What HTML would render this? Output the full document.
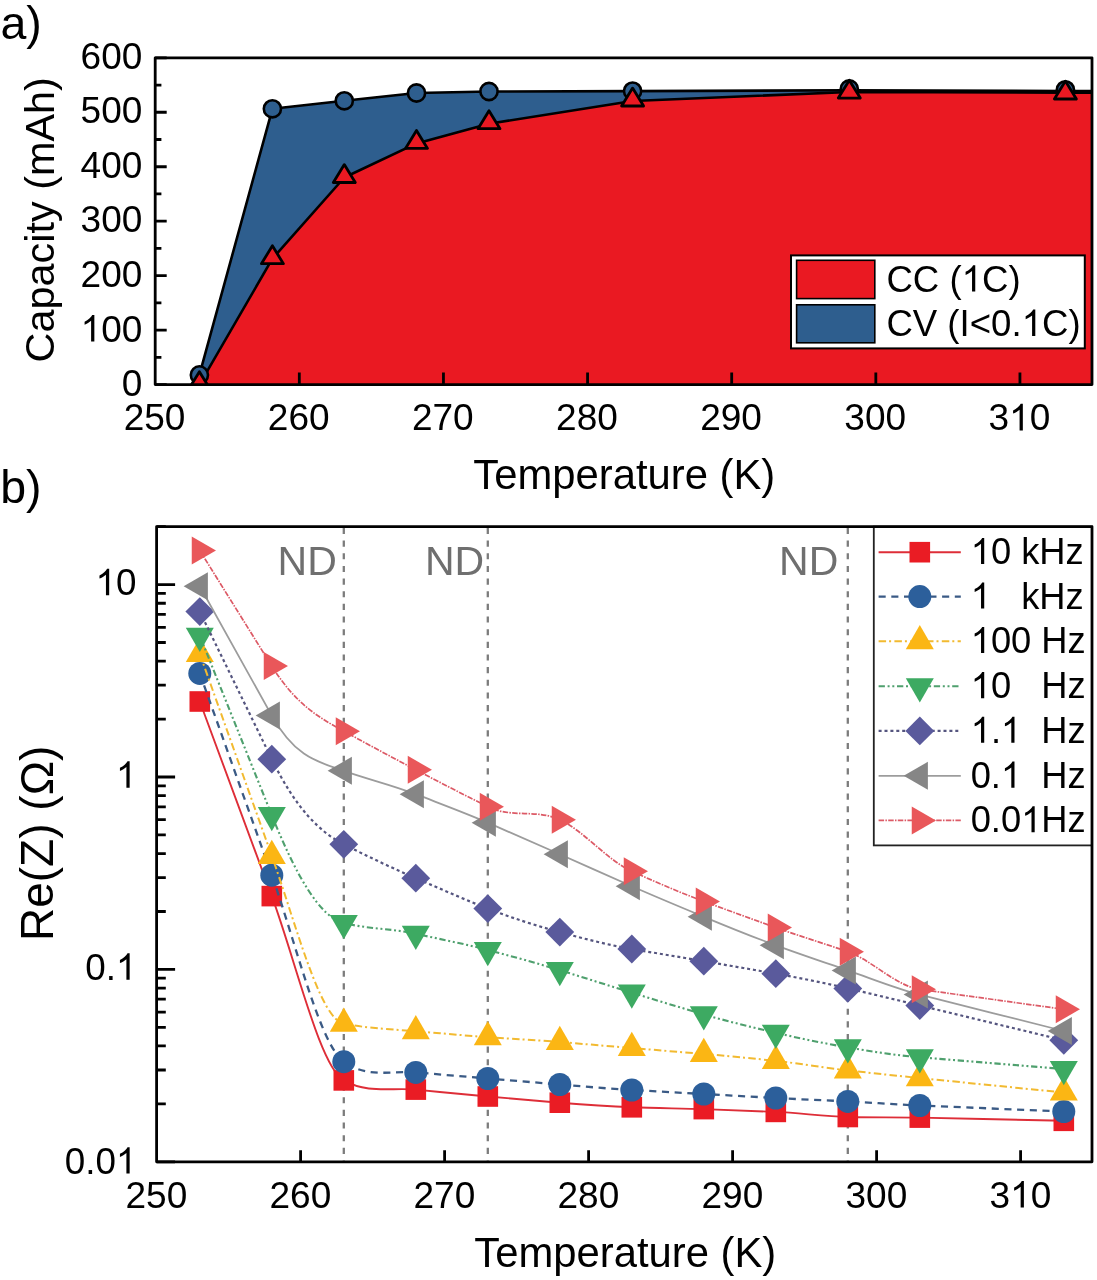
<!DOCTYPE html><html><head><meta charset="utf-8"><style>html,body{margin:0;padding:0;background:#fff;}svg{display:block;will-change:transform;}</style></head><body>
<svg width="1097" height="1280" viewBox="0 0 1097 1280">
<rect width="1097" height="1280" fill="#fff"/>
<defs>
<clipPath id="ca"><rect x="155.2" y="57.8" width="936.8" height="326.8"/></clipPath>
<clipPath id="cb"><rect x="156.6" y="526.6" width="935.4" height="635.1999999999999"/></clipPath>
</defs>
<g clip-path="url(#ca)">
<polygon points="199.4,384.6 272.4,258.7 344.3,177.5 416.5,143.4 489,123.7 632.6,101 849.3,92 1065.4,92.6 1097,92.6 1097,389.6 199.4,389.6" fill="#EA1922"/>
<polygon points="199.4,374.9 272.4,108.8 344.3,100.8 416.5,93 489,91.5 632.6,91.1 849.3,90.3 1065.4,91.1 1097,91.1 1097,92.6 1065.4,92.6 849.3,92 632.6,101 489,123.7 416.5,143.4 344.3,177.5 272.4,258.7 199.4,384.6" fill="#2E5E8E"/>
<polyline points="199.4,374.9 272.4,108.8 344.3,100.8 416.5,93 489,91.5 632.6,91.1 849.3,90.3 1065.4,91.1 1097,91.1" fill="none" stroke="#000" stroke-width="2.6" stroke-linejoin="round"/>
<polyline points="199.4,384.6 272.4,258.7 344.3,177.5 416.5,143.4 489,123.7 632.6,101 849.3,92 1065.4,92.6 1097,92.6" fill="none" stroke="#000" stroke-width="2.6" stroke-linejoin="round"/>
<circle cx="199.4" cy="374.9" r="8.6" fill="#2E5E8E" stroke="#000" stroke-width="2.6"/>
<circle cx="272.4" cy="108.8" r="8.6" fill="#2E5E8E" stroke="#000" stroke-width="2.6"/>
<circle cx="344.3" cy="100.8" r="8.6" fill="#2E5E8E" stroke="#000" stroke-width="2.6"/>
<circle cx="416.5" cy="93" r="8.6" fill="#2E5E8E" stroke="#000" stroke-width="2.6"/>
<circle cx="489" cy="91.5" r="8.6" fill="#2E5E8E" stroke="#000" stroke-width="2.6"/>
<circle cx="632.6" cy="91.1" r="8.6" fill="#2E5E8E" stroke="#000" stroke-width="2.6"/>
<circle cx="849.3" cy="89" r="8.6" fill="#2E5E8E" stroke="#000" stroke-width="2.6"/>
<circle cx="1065.4" cy="89.8" r="8.6" fill="#2E5E8E" stroke="#000" stroke-width="2.6"/>
<polygon points="199.4,371.7 210.4,389.6 188.4,389.6" fill="#EA1922" stroke="#000" stroke-width="2.8" stroke-linejoin="round"/>
<polygon points="272.4,245.8 283.4,263.7 261.4,263.7" fill="#EA1922" stroke="#000" stroke-width="2.8" stroke-linejoin="round"/>
<polygon points="344.3,164.6 355.3,182.5 333.3,182.5" fill="#EA1922" stroke="#000" stroke-width="2.8" stroke-linejoin="round"/>
<polygon points="416.5,130.5 427.5,148.4 405.5,148.4" fill="#EA1922" stroke="#000" stroke-width="2.8" stroke-linejoin="round"/>
<polygon points="489,110.8 500,128.7 478,128.7" fill="#EA1922" stroke="#000" stroke-width="2.8" stroke-linejoin="round"/>
<polygon points="632.6,88.1 643.6,106 621.6,106" fill="#EA1922" stroke="#000" stroke-width="2.8" stroke-linejoin="round"/>
<polygon points="849.3,80.2 860.3,98.1 838.3,98.1" fill="#EA1922" stroke="#000" stroke-width="2.8" stroke-linejoin="round"/>
<polygon points="1065.4,81.1 1076.4,99 1054.4,99" fill="#EA1922" stroke="#000" stroke-width="2.8" stroke-linejoin="round"/>
</g>
<path d="M155.2 384.6h11.5 M155.2 357.37h6.2 M155.2 330.13h11.5 M155.2 302.9h6.2 M155.2 275.67h11.5 M155.2 248.43h6.2 M155.2 221.2h11.5 M155.2 193.97h6.2 M155.2 166.73h11.5 M155.2 139.5h6.2 M155.2 112.27h11.5 M155.2 85.03h6.2 M155.2 57.8h11.5 M299.32 384.6v-12 M443.45 384.6v-12 M587.57 384.6v-12 M731.69 384.6v-12 M875.82 384.6v-12 M1019.94 384.6v-12" stroke="#000" stroke-width="2.8" fill="none"/>
<rect x="155.2" y="57.8" width="936.8" height="326.8" fill="none" stroke="#000" stroke-width="2.8" stroke-linejoin="round"/>
<rect x="791" y="255.4" width="293.8" height="93" fill="#fff" stroke="#000" stroke-width="2"/>
<rect x="796.6" y="260.3" width="78.2" height="38.3" fill="#EA1922" stroke="#000" stroke-width="1.6"/>
<rect x="796.6" y="304.8" width="78.2" height="38" fill="#2E5E8E" stroke="#000" stroke-width="1.6"/>
<text x="886.4" y="291.6" font-family="Liberation Sans, sans-serif" font-size="36.6" fill="#000" xml:space="preserve" style="white-space:pre;font-kerning:none">CC (</text>
<path transform="translate(961.62,291.6) scale(0.01787,-0.01787)" d="M763 0L583 0L583 1147Q518 1085 412.5 1023Q307 961 223 930L223 1104Q374 1175 486.5 1276Q599 1377 646 1472L763 1472Z" fill="#000"/>
<text x="981.97" y="291.6" font-family="Liberation Sans, sans-serif" font-size="36.6" fill="#000" xml:space="preserve" style="white-space:pre;font-kerning:none">C)</text>
<text x="886.4" y="335.9" font-family="Liberation Sans, sans-serif" font-size="36.6" fill="#000" xml:space="preserve" style="white-space:pre;font-kerning:none">CV (I&lt;0.</text>
<path transform="translate(1021.67,335.9) scale(0.01787,-0.01787)" d="M763 0L583 0L583 1147Q518 1085 412.5 1023Q307 961 223 930L223 1104Q374 1175 486.5 1276Q599 1377 646 1472L763 1472Z" fill="#000"/>
<text x="1042.02" y="335.9" font-family="Liberation Sans, sans-serif" font-size="36.6" fill="#000" xml:space="preserve" style="white-space:pre;font-kerning:none">C)</text>
<text x="121.72" y="396.2" font-family="Liberation Sans, sans-serif" font-size="37" fill="#000" xml:space="preserve" style="white-space:pre;font-kerning:none">0</text>
<path transform="translate(80.57,341.6) scale(0.01807,-0.01807)" d="M763 0L583 0L583 1147Q518 1085 412.5 1023Q307 961 223 930L223 1104Q374 1175 486.5 1276Q599 1377 646 1472L763 1472Z" fill="#000"/>
<text x="101.14" y="341.6" font-family="Liberation Sans, sans-serif" font-size="37" fill="#000" xml:space="preserve" style="white-space:pre;font-kerning:none">00</text>
<text x="80.57" y="287" font-family="Liberation Sans, sans-serif" font-size="37" fill="#000" xml:space="preserve" style="white-space:pre;font-kerning:none">200</text>
<text x="80.57" y="232.4" font-family="Liberation Sans, sans-serif" font-size="37" fill="#000" xml:space="preserve" style="white-space:pre;font-kerning:none">300</text>
<text x="80.57" y="177.8" font-family="Liberation Sans, sans-serif" font-size="37" fill="#000" xml:space="preserve" style="white-space:pre;font-kerning:none">400</text>
<text x="80.57" y="123.2" font-family="Liberation Sans, sans-serif" font-size="37" fill="#000" xml:space="preserve" style="white-space:pre;font-kerning:none">500</text>
<text x="80.57" y="68.6" font-family="Liberation Sans, sans-serif" font-size="37" fill="#000" xml:space="preserve" style="white-space:pre;font-kerning:none">600</text>
<text x="123.73" y="430.4" font-family="Liberation Sans, sans-serif" font-size="37" fill="#000" xml:space="preserve" style="white-space:pre;font-kerning:none">250</text>
<text x="267.86" y="430.4" font-family="Liberation Sans, sans-serif" font-size="37" fill="#000" xml:space="preserve" style="white-space:pre;font-kerning:none">260</text>
<text x="411.98" y="430.4" font-family="Liberation Sans, sans-serif" font-size="37" fill="#000" xml:space="preserve" style="white-space:pre;font-kerning:none">270</text>
<text x="556.1" y="430.4" font-family="Liberation Sans, sans-serif" font-size="37" fill="#000" xml:space="preserve" style="white-space:pre;font-kerning:none">280</text>
<text x="700.23" y="430.4" font-family="Liberation Sans, sans-serif" font-size="37" fill="#000" xml:space="preserve" style="white-space:pre;font-kerning:none">290</text>
<text x="844.35" y="430.4" font-family="Liberation Sans, sans-serif" font-size="37" fill="#000" xml:space="preserve" style="white-space:pre;font-kerning:none">300</text>
<text x="988.47" y="430.4" font-family="Liberation Sans, sans-serif" font-size="37" fill="#000" xml:space="preserve" style="white-space:pre;font-kerning:none">3</text>
<path transform="translate(1009.05,430.4) scale(0.01807,-0.01807)" d="M763 0L583 0L583 1147Q518 1085 412.5 1023Q307 961 223 930L223 1104Q374 1175 486.5 1276Q599 1377 646 1472L763 1472Z" fill="#000"/>
<text x="1029.63" y="430.4" font-family="Liberation Sans, sans-serif" font-size="37" fill="#000" xml:space="preserve" style="white-space:pre;font-kerning:none">0</text>
<text x="473.3" y="488.8" font-family="Liberation Sans, sans-serif" font-size="41.8" fill="#000">Temperature (K)</text>
<text transform="translate(53.6,362.4) rotate(-90)" x="0" y="0" font-family="Liberation Sans, sans-serif" font-size="41.4" fill="#000">Capacity (mAh)</text>
<text x="0.4" y="39.2" font-family="Liberation Sans, sans-serif" font-size="46.5" fill="#000">a)</text>
<line x1="343.8" y1="526.6" x2="343.8" y2="1161.8" stroke="#7c7c7c" stroke-width="2.3" stroke-dasharray="6.1 6.55" stroke-dashoffset="11.3"/>
<line x1="487.8" y1="526.6" x2="487.8" y2="1161.8" stroke="#7c7c7c" stroke-width="2.3" stroke-dasharray="6.1 6.55" stroke-dashoffset="11.3"/>
<line x1="847.8" y1="526.6" x2="847.8" y2="1161.8" stroke="#7c7c7c" stroke-width="2.3" stroke-dasharray="6.1 6.55" stroke-dashoffset="11.3"/>
<text x="277.6" y="575.2" font-family="Liberation Sans, sans-serif" font-size="41" fill="#6f6f6f">ND</text>
<text x="425.0" y="575.2" font-family="Liberation Sans, sans-serif" font-size="41" fill="#6f6f6f">ND</text>
<text x="779.1" y="575.2" font-family="Liberation Sans, sans-serif" font-size="41" fill="#6f6f6f">ND</text>
<g clip-path="url(#cb)">
<path d="M199.8 701.5C223.8 766.37 247.8 831.23 271.8 896.1C295.8 960.97 319.8 1066.68 343.8 1080.4C367.8 1094.12 391.8 1087.3 415.8 1089.6C439.8 1091.9 463.8 1094.34 487.8 1096.5C511.8 1098.66 535.8 1100.74 559.8 1102.7C583.8 1104.66 607.8 1106.34 631.8 1107.3C655.8 1108.26 679.8 1108.32 703.8 1109.1C727.8 1109.88 751.8 1110.83 775.8 1111.9C799.8 1112.97 823.8 1116.35 847.8 1117C871.8 1117.65 895.8 1117.07 919.8 1117.6C967.8 1118.67 1015.8 1119.73 1063.8 1120.8" fill="none" stroke="#DE2E38" stroke-width="1.9"/>
<rect x="189.5" y="691.2" width="20.6" height="20.6" fill="#EA1C24"/>
<rect x="261.5" y="885.8" width="20.6" height="20.6" fill="#EA1C24"/>
<rect x="333.5" y="1070.1" width="20.6" height="20.6" fill="#EA1C24"/>
<rect x="405.5" y="1079.3" width="20.6" height="20.6" fill="#EA1C24"/>
<rect x="477.5" y="1086.2" width="20.6" height="20.6" fill="#EA1C24"/>
<rect x="549.5" y="1092.4" width="20.6" height="20.6" fill="#EA1C24"/>
<rect x="621.5" y="1097" width="20.6" height="20.6" fill="#EA1C24"/>
<rect x="693.5" y="1098.8" width="20.6" height="20.6" fill="#EA1C24"/>
<rect x="765.5" y="1101.6" width="20.6" height="20.6" fill="#EA1C24"/>
<rect x="837.5" y="1106.7" width="20.6" height="20.6" fill="#EA1C24"/>
<rect x="909.5" y="1107.3" width="20.6" height="20.6" fill="#EA1C24"/>
<rect x="1053.5" y="1110.5" width="20.6" height="20.6" fill="#EA1C24"/>
<path d="M199.8 673.4C223.8 740.67 247.8 807.93 271.8 875.2C295.8 942.47 319.8 1044.59 343.8 1061.7C367.8 1078.81 391.8 1070.37 415.8 1072.4C439.8 1074.43 463.8 1076.5 487.8 1078.5C511.8 1080.5 535.8 1082.51 559.8 1084.5C583.8 1086.49 607.8 1088.67 631.8 1090C655.8 1091.33 679.8 1092.67 703.8 1094C727.8 1095.33 751.8 1096.67 775.8 1098C799.8 1099.33 823.8 1100.18 847.8 1101.4C871.8 1102.62 895.8 1104.5 919.8 1105.5C967.8 1107.5 1015.8 1109.5 1063.8 1111.5" fill="none" stroke="#3A5A85" stroke-width="2.3" stroke-dasharray="7.1 5.6"/>
<circle cx="199.8" cy="673.4" r="11.5" fill="#2C5F9B"/>
<circle cx="271.8" cy="875.2" r="11.5" fill="#2C5F9B"/>
<circle cx="343.8" cy="1061.7" r="11.5" fill="#2C5F9B"/>
<circle cx="415.8" cy="1072.4" r="11.5" fill="#2C5F9B"/>
<circle cx="487.8" cy="1078.5" r="11.5" fill="#2C5F9B"/>
<circle cx="559.8" cy="1084.5" r="11.5" fill="#2C5F9B"/>
<circle cx="631.8" cy="1090" r="11.5" fill="#2C5F9B"/>
<circle cx="703.8" cy="1094" r="11.5" fill="#2C5F9B"/>
<circle cx="775.8" cy="1098" r="11.5" fill="#2C5F9B"/>
<circle cx="847.8" cy="1101.4" r="11.5" fill="#2C5F9B"/>
<circle cx="919.8" cy="1105.5" r="11.5" fill="#2C5F9B"/>
<circle cx="1063.8" cy="1111.5" r="11.5" fill="#2C5F9B"/>
<path d="M199.8 653.9C223.8 721.23 247.8 788.57 271.8 855.9C295.8 923.23 319.8 1018.95 343.8 1023.7C367.8 1028.45 391.8 1029.2 415.8 1031.2C439.8 1033.2 463.8 1035.42 487.8 1037.2C511.8 1038.98 535.8 1040 559.8 1042C583.8 1044 607.8 1046 631.8 1048C655.8 1050 679.8 1052 703.8 1054C727.8 1056 751.8 1058.31 775.8 1060.9C799.8 1063.49 823.8 1067.74 847.8 1070.4C871.8 1073.06 895.8 1075.7 919.8 1078.1C967.8 1082.9 1015.8 1087.7 1063.8 1092.5" fill="none" stroke="#F2BA30" stroke-width="2.0" stroke-dasharray="7.5 3 2 3.3"/>
<polygon points="199.8,637.73 213.8,661.98 185.8,661.98" fill="#FBB614"/>
<polygon points="271.8,839.73 285.8,863.98 257.8,863.98" fill="#FBB614"/>
<polygon points="343.8,1007.53 357.8,1031.78 329.8,1031.78" fill="#FBB614"/>
<polygon points="415.8,1015.03 429.8,1039.28 401.8,1039.28" fill="#FBB614"/>
<polygon points="487.8,1021.03 501.8,1045.28 473.8,1045.28" fill="#FBB614"/>
<polygon points="559.8,1025.83 573.8,1050.08 545.8,1050.08" fill="#FBB614"/>
<polygon points="631.8,1031.83 645.8,1056.08 617.8,1056.08" fill="#FBB614"/>
<polygon points="703.8,1037.83 717.8,1062.08 689.8,1062.08" fill="#FBB614"/>
<polygon points="775.8,1044.73 789.8,1068.98 761.8,1068.98" fill="#FBB614"/>
<polygon points="847.8,1054.23 861.8,1078.48 833.8,1078.48" fill="#FBB614"/>
<polygon points="919.8,1061.93 933.8,1086.18 905.8,1086.18" fill="#FBB614"/>
<polygon points="1063.8,1076.33 1077.8,1100.58 1049.8,1100.58" fill="#FBB614"/>
<path d="M199.8 635.8C223.8 695.6 247.8 755.4 271.8 815.2C295.8 875 319.8 917.22 343.8 923.1C367.8 928.98 391.8 928.47 415.8 933.8C439.8 939.13 463.8 943.66 487.8 950C511.8 956.34 535.8 962.83 559.8 970.2C583.8 977.57 607.8 985.31 631.8 992.7C655.8 1000.09 679.8 1007.36 703.8 1014.4C727.8 1021.44 751.8 1027.19 775.8 1032.8C799.8 1038.41 823.8 1043.29 847.8 1047.4C871.8 1051.51 895.8 1055.35 919.8 1057.3C967.8 1061.2 1015.8 1065.1 1063.8 1069" fill="none" stroke="#4FA06E" stroke-width="2.1" stroke-dasharray="6.3 2.7 2 2.7 2 2.7"/>
<polygon points="199.8,651.97 213.8,627.72 185.8,627.72" fill="#3DAA62"/>
<polygon points="271.8,831.37 285.8,807.12 257.8,807.12" fill="#3DAA62"/>
<polygon points="343.8,939.27 357.8,915.02 329.8,915.02" fill="#3DAA62"/>
<polygon points="415.8,949.97 429.8,925.72 401.8,925.72" fill="#3DAA62"/>
<polygon points="487.8,966.17 501.8,941.92 473.8,941.92" fill="#3DAA62"/>
<polygon points="559.8,986.37 573.8,962.12 545.8,962.12" fill="#3DAA62"/>
<polygon points="631.8,1008.87 645.8,984.62 617.8,984.62" fill="#3DAA62"/>
<polygon points="703.8,1030.57 717.8,1006.32 689.8,1006.32" fill="#3DAA62"/>
<polygon points="775.8,1048.97 789.8,1024.72 761.8,1024.72" fill="#3DAA62"/>
<polygon points="847.8,1063.57 861.8,1039.32 833.8,1039.32" fill="#3DAA62"/>
<polygon points="919.8,1073.47 933.8,1049.22 905.8,1049.22" fill="#3DAA62"/>
<polygon points="1063.8,1085.17 1077.8,1060.92 1049.8,1060.92" fill="#3DAA62"/>
<path d="M199.8 611.6C223.8 660.8 247.8 710 271.8 759.2C295.8 808.4 319.8 832.09 343.8 844.3C367.8 856.51 391.8 867.93 415.8 878.2C439.8 888.47 463.8 899.26 487.8 908.6C511.8 917.94 535.8 925.58 559.8 932.1C583.8 938.62 607.8 944.87 631.8 949C655.8 953.13 679.8 957.07 703.8 961.2C727.8 965.33 751.8 969.45 775.8 973.7C799.8 977.95 823.8 982.8 847.8 988.4C871.8 994 895.8 999.7 919.8 1005.5C967.8 1017.1 1015.8 1028.7 1063.8 1040.3" fill="none" stroke="#55557F" stroke-width="2.2" stroke-dasharray="3 2.9"/>
<polygon points="199.8,597.2 214.2,611.6 199.8,626 185.4,611.6" fill="#5A5A9C"/>
<polygon points="271.8,744.8 286.2,759.2 271.8,773.6 257.4,759.2" fill="#5A5A9C"/>
<polygon points="343.8,829.9 358.2,844.3 343.8,858.7 329.4,844.3" fill="#5A5A9C"/>
<polygon points="415.8,863.8 430.2,878.2 415.8,892.6 401.4,878.2" fill="#5A5A9C"/>
<polygon points="487.8,894.2 502.2,908.6 487.8,923 473.4,908.6" fill="#5A5A9C"/>
<polygon points="559.8,917.7 574.2,932.1 559.8,946.5 545.4,932.1" fill="#5A5A9C"/>
<polygon points="631.8,934.6 646.2,949 631.8,963.4 617.4,949" fill="#5A5A9C"/>
<polygon points="703.8,946.8 718.2,961.2 703.8,975.6 689.4,961.2" fill="#5A5A9C"/>
<polygon points="775.8,959.3 790.2,973.7 775.8,988.1 761.4,973.7" fill="#5A5A9C"/>
<polygon points="847.8,974 862.2,988.4 847.8,1002.8 833.4,988.4" fill="#5A5A9C"/>
<polygon points="919.8,991.1 934.2,1005.5 919.8,1019.9 905.4,1005.5" fill="#5A5A9C"/>
<polygon points="1063.8,1025.9 1078.2,1040.3 1063.8,1054.7 1049.4,1040.3" fill="#5A5A9C"/>
<path d="M199.8 586.3C223.8 629.4 247.8 672.5 271.8 715.6C295.8 758.7 319.8 762.32 343.8 770.8C367.8 779.28 391.8 784.85 415.8 794.2C439.8 803.55 463.8 812.31 487.8 822.7C511.8 833.09 535.8 843.57 559.8 854.2C583.8 864.83 607.8 875.72 631.8 886.3C655.8 896.88 679.8 906.85 703.8 916.8C727.8 926.75 751.8 936.58 775.8 945.3C799.8 954.02 823.8 962.14 847.8 970.4C871.8 978.66 895.8 988.53 919.8 994.6C967.8 1006.73 1015.8 1018.87 1063.8 1031" fill="none" stroke="#9c9c9c" stroke-width="1.8"/>
<polygon points="183.63,586.3 207.88,572.3 207.88,600.3" fill="#868686"/>
<polygon points="255.63,715.6 279.88,701.6 279.88,729.6" fill="#868686"/>
<polygon points="327.63,770.8 351.88,756.8 351.88,784.8" fill="#868686"/>
<polygon points="399.63,794.2 423.88,780.2 423.88,808.2" fill="#868686"/>
<polygon points="471.63,822.7 495.88,808.7 495.88,836.7" fill="#868686"/>
<polygon points="543.63,854.2 567.88,840.2 567.88,868.2" fill="#868686"/>
<polygon points="615.63,886.3 639.88,872.3 639.88,900.3" fill="#868686"/>
<polygon points="687.63,916.8 711.88,902.8 711.88,930.8" fill="#868686"/>
<polygon points="759.63,945.3 783.88,931.3 783.88,959.3" fill="#868686"/>
<polygon points="831.63,970.4 855.88,956.4 855.88,984.4" fill="#868686"/>
<polygon points="903.63,994.6 927.88,980.6 927.88,1008.6" fill="#868686"/>
<polygon points="1047.63,1031 1071.88,1017 1071.88,1045" fill="#868686"/>
<path d="M199.8 550.6C223.8 589.1 247.8 627.6 271.8 666.1C295.8 704.6 319.8 718.05 343.8 731.2C367.8 744.35 391.8 757.23 415.8 769.8C439.8 782.37 463.8 794.74 487.8 806.7C511.8 818.66 535.8 808.59 559.8 819.7C583.8 830.81 607.8 860.61 631.8 871.3C655.8 881.99 679.8 892.55 703.8 901.4C727.8 910.25 751.8 919.02 775.8 927.6C799.8 936.18 823.8 943.35 847.8 951.7C871.8 960.05 895.8 985.97 919.8 989.3C967.8 995.97 1015.8 1002.63 1063.8 1009.3" fill="none" stroke="#DC5A66" stroke-width="1.7" stroke-dasharray="5.5 1.3 1.5 1.3"/>
<polygon points="215.97,550.6 191.72,536.6 191.72,564.6" fill="#E9575A"/>
<polygon points="287.97,666.1 263.72,652.1 263.72,680.1" fill="#E9575A"/>
<polygon points="359.97,731.2 335.72,717.2 335.72,745.2" fill="#E9575A"/>
<polygon points="431.97,769.8 407.72,755.8 407.72,783.8" fill="#E9575A"/>
<polygon points="503.97,806.7 479.72,792.7 479.72,820.7" fill="#E9575A"/>
<polygon points="575.97,819.7 551.72,805.7 551.72,833.7" fill="#E9575A"/>
<polygon points="647.97,871.3 623.72,857.3 623.72,885.3" fill="#E9575A"/>
<polygon points="719.97,901.4 695.72,887.4 695.72,915.4" fill="#E9575A"/>
<polygon points="791.97,927.6 767.72,913.6 767.72,941.6" fill="#E9575A"/>
<polygon points="863.97,951.7 839.72,937.7 839.72,965.7" fill="#E9575A"/>
<polygon points="935.97,989.3 911.72,975.3 911.72,1003.3" fill="#E9575A"/>
<polygon points="1079.97,1009.3 1055.72,995.3 1055.72,1023.3" fill="#E9575A"/>
</g>
<path d="M156.6 1161.8h18.5 M156.6 1103.88h9.2 M156.6 1070h9.2 M156.6 1045.96h9.2 M156.6 1027.32h9.2 M156.6 1012.08h9.2 M156.6 999.2h9.2 M156.6 988.05h9.2 M156.6 978.2h9.2 M156.6 969.4h18.5 M156.6 911.48h9.2 M156.6 877.6h9.2 M156.6 853.56h9.2 M156.6 834.92h9.2 M156.6 819.68h9.2 M156.6 806.8h9.2 M156.6 795.65h9.2 M156.6 785.8h9.2 M156.6 777h18.5 M156.6 719.08h9.2 M156.6 685.2h9.2 M156.6 661.16h9.2 M156.6 642.52h9.2 M156.6 627.28h9.2 M156.6 614.4h9.2 M156.6 603.25h9.2 M156.6 593.4h9.2 M156.6 584.6h18.5 M156.6 526.68h9.2 M300.6 1161.8v-11.5 M444.6 1161.8v-11.5 M588.6 1161.8v-11.5 M732.6 1161.8v-11.5 M876.6 1161.8v-11.5 M1020.6 1161.8v-11.5" stroke="#000" stroke-width="2.8" fill="none"/>
<rect x="873.8" y="526.6" width="218.2" height="318.8" fill="#fff" stroke="#222" stroke-width="1.8"/>
<line x1="878.6" y1="552.2" x2="960.8" y2="552.2" stroke="#DE2E38" stroke-width="1.9"/>
<rect x="909.5" y="541.9" width="20.6" height="20.6" fill="#EA1C24"/>
<path transform="translate(970.7,564.1) scale(0.01772,-0.01772)" d="M763 0L583 0L583 1147Q518 1085 412.5 1023Q307 961 223 930L223 1104Q374 1175 486.5 1276Q599 1377 646 1472L763 1472Z" fill="#000"/>
<text x="990.89" y="564.1" font-family="Liberation Sans, sans-serif" font-size="36.3" fill="#000" xml:space="preserve" style="white-space:pre;font-kerning:none">0 kHz</text>
<line x1="878.6" y1="596.6" x2="960.8" y2="596.6" stroke="#3A5A85" stroke-width="2.3" stroke-dasharray="7.1 5.6"/>
<circle cx="919.8" cy="596.6" r="11.5" fill="#2C5F9B"/>
<path transform="translate(970.7,608.5) scale(0.01772,-0.01772)" d="M763 0L583 0L583 1147Q518 1085 412.5 1023Q307 961 223 930L223 1104Q374 1175 486.5 1276Q599 1377 646 1472L763 1472Z" fill="#000"/>
<text x="990.89" y="608.5" font-family="Liberation Sans, sans-serif" font-size="36.3" fill="#000" xml:space="preserve" style="white-space:pre;font-kerning:none">   kHz</text>
<line x1="878.6" y1="641.2" x2="960.8" y2="641.2" stroke="#F2BA30" stroke-width="2.0" stroke-dasharray="7.5 3 2 3.3"/>
<polygon points="919.8,625.03 933.8,649.28 905.8,649.28" fill="#FBB614"/>
<path transform="translate(970.7,653.1) scale(0.01772,-0.01772)" d="M763 0L583 0L583 1147Q518 1085 412.5 1023Q307 961 223 930L223 1104Q374 1175 486.5 1276Q599 1377 646 1472L763 1472Z" fill="#000"/>
<text x="990.89" y="653.1" font-family="Liberation Sans, sans-serif" font-size="36.3" fill="#000" xml:space="preserve" style="white-space:pre;font-kerning:none">00 Hz</text>
<line x1="878.6" y1="686.3" x2="960.8" y2="686.3" stroke="#4FA06E" stroke-width="2.1" stroke-dasharray="6.3 2.7 2 2.7 2 2.7"/>
<polygon points="919.8,702.47 933.8,678.22 905.8,678.22" fill="#3DAA62"/>
<path transform="translate(970.7,698.2) scale(0.01772,-0.01772)" d="M763 0L583 0L583 1147Q518 1085 412.5 1023Q307 961 223 930L223 1104Q374 1175 486.5 1276Q599 1377 646 1472L763 1472Z" fill="#000"/>
<text x="990.89" y="698.2" font-family="Liberation Sans, sans-serif" font-size="36.3" fill="#000" xml:space="preserve" style="white-space:pre;font-kerning:none">0   Hz</text>
<line x1="878.6" y1="730.9" x2="960.8" y2="730.9" stroke="#55557F" stroke-width="2.2" stroke-dasharray="3 2.9"/>
<polygon points="919.8,716.5 934.2,730.9 919.8,745.3 905.4,730.9" fill="#5A5A9C"/>
<path transform="translate(970.7,742.8) scale(0.01772,-0.01772)" d="M763 0L583 0L583 1147Q518 1085 412.5 1023Q307 961 223 930L223 1104Q374 1175 486.5 1276Q599 1377 646 1472L763 1472Z" fill="#000"/>
<text x="990.89" y="742.8" font-family="Liberation Sans, sans-serif" font-size="36.3" fill="#000" xml:space="preserve" style="white-space:pre;font-kerning:none">.</text>
<path transform="translate(1000.97,742.8) scale(0.01772,-0.01772)" d="M763 0L583 0L583 1147Q518 1085 412.5 1023Q307 961 223 930L223 1104Q374 1175 486.5 1276Q599 1377 646 1472L763 1472Z" fill="#000"/>
<text x="1021.16" y="742.8" font-family="Liberation Sans, sans-serif" font-size="36.3" fill="#000" xml:space="preserve" style="white-space:pre;font-kerning:none">  Hz</text>
<line x1="878.6" y1="775.8" x2="960.8" y2="775.8" stroke="#9c9c9c" stroke-width="1.8"/>
<polygon points="903.63,775.8 927.88,761.8 927.88,789.8" fill="#868686"/>
<text x="970.7" y="787.7" font-family="Liberation Sans, sans-serif" font-size="36.3" fill="#000" xml:space="preserve" style="white-space:pre;font-kerning:none">0.</text>
<path transform="translate(1000.97,787.7) scale(0.01772,-0.01772)" d="M763 0L583 0L583 1147Q518 1085 412.5 1023Q307 961 223 930L223 1104Q374 1175 486.5 1276Q599 1377 646 1472L763 1472Z" fill="#000"/>
<text x="1021.16" y="787.7" font-family="Liberation Sans, sans-serif" font-size="36.3" fill="#000" xml:space="preserve" style="white-space:pre;font-kerning:none">  Hz</text>
<line x1="878.6" y1="820.4" x2="960.8" y2="820.4" stroke="#DC5A66" stroke-width="1.7" stroke-dasharray="5.5 1.3 1.5 1.3"/>
<polygon points="935.97,820.4 911.72,806.4 911.72,834.4" fill="#E9575A"/>
<text x="970.7" y="832.3" font-family="Liberation Sans, sans-serif" font-size="36.3" fill="#000" xml:space="preserve" style="white-space:pre;font-kerning:none">0.0</text>
<path transform="translate(1021.16,832.3) scale(0.01772,-0.01772)" d="M763 0L583 0L583 1147Q518 1085 412.5 1023Q307 961 223 930L223 1104Q374 1175 486.5 1276Q599 1377 646 1472L763 1472Z" fill="#000"/>
<text x="1041.35" y="832.3" font-family="Liberation Sans, sans-serif" font-size="36.3" fill="#000" xml:space="preserve" style="white-space:pre;font-kerning:none">Hz</text>
<rect x="156.6" y="526.6" width="935.4" height="635.2" fill="none" stroke="#000" stroke-width="2.8" stroke-linejoin="round"/>
<path transform="translate(95.47,595.3) scale(0.01797,-0.01797)" d="M763 0L583 0L583 1147Q518 1085 412.5 1023Q307 961 223 930L223 1104Q374 1175 486.5 1276Q599 1377 646 1472L763 1472Z" fill="#000"/>
<text x="115.93" y="595.3" font-family="Liberation Sans, sans-serif" font-size="36.8" fill="#000" xml:space="preserve" style="white-space:pre;font-kerning:none">0</text>
<path transform="translate(115.93,787.7) scale(0.01797,-0.01797)" d="M763 0L583 0L583 1147Q518 1085 412.5 1023Q307 961 223 930L223 1104Q374 1175 486.5 1276Q599 1377 646 1472L763 1472Z" fill="#000"/>
<text x="85.24" y="979.8" font-family="Liberation Sans, sans-serif" font-size="36.8" fill="#000" xml:space="preserve" style="white-space:pre;font-kerning:none">0.</text>
<path transform="translate(115.93,979.8) scale(0.01797,-0.01797)" d="M763 0L583 0L583 1147Q518 1085 412.5 1023Q307 961 223 930L223 1104Q374 1175 486.5 1276Q599 1377 646 1472L763 1472Z" fill="#000"/>
<text x="64.78" y="1173.6" font-family="Liberation Sans, sans-serif" font-size="36.8" fill="#000" xml:space="preserve" style="white-space:pre;font-kerning:none">0.0</text>
<path transform="translate(115.93,1173.6) scale(0.01797,-0.01797)" d="M763 0L583 0L583 1147Q518 1085 412.5 1023Q307 961 223 930L223 1104Q374 1175 486.5 1276Q599 1377 646 1472L763 1472Z" fill="#000"/>
<text x="125.53" y="1207.5" font-family="Liberation Sans, sans-serif" font-size="37" fill="#000" xml:space="preserve" style="white-space:pre;font-kerning:none">250</text>
<text x="269.53" y="1207.5" font-family="Liberation Sans, sans-serif" font-size="37" fill="#000" xml:space="preserve" style="white-space:pre;font-kerning:none">260</text>
<text x="413.53" y="1207.5" font-family="Liberation Sans, sans-serif" font-size="37" fill="#000" xml:space="preserve" style="white-space:pre;font-kerning:none">270</text>
<text x="557.53" y="1207.5" font-family="Liberation Sans, sans-serif" font-size="37" fill="#000" xml:space="preserve" style="white-space:pre;font-kerning:none">280</text>
<text x="701.53" y="1207.5" font-family="Liberation Sans, sans-serif" font-size="37" fill="#000" xml:space="preserve" style="white-space:pre;font-kerning:none">290</text>
<text x="845.53" y="1207.5" font-family="Liberation Sans, sans-serif" font-size="37" fill="#000" xml:space="preserve" style="white-space:pre;font-kerning:none">300</text>
<text x="989.53" y="1207.5" font-family="Liberation Sans, sans-serif" font-size="37" fill="#000" xml:space="preserve" style="white-space:pre;font-kerning:none">3</text>
<path transform="translate(1010.11,1207.5) scale(0.01807,-0.01807)" d="M763 0L583 0L583 1147Q518 1085 412.5 1023Q307 961 223 930L223 1104Q374 1175 486.5 1276Q599 1377 646 1472L763 1472Z" fill="#000"/>
<text x="1030.69" y="1207.5" font-family="Liberation Sans, sans-serif" font-size="37" fill="#000" xml:space="preserve" style="white-space:pre;font-kerning:none">0</text>
<text x="474.3" y="1266.8" font-family="Liberation Sans, sans-serif" font-size="41.8" fill="#000">Temperature (K)</text>
<text transform="translate(52.9,941.0) rotate(-90)" x="0" y="0" font-family="Liberation Sans, sans-serif" font-size="46" fill="#000">Re(Z) (&#937;)</text>
<text x="0.2" y="502.6" font-family="Liberation Sans, sans-serif" font-size="46.5" fill="#000">b)</text>
</svg></body></html>
